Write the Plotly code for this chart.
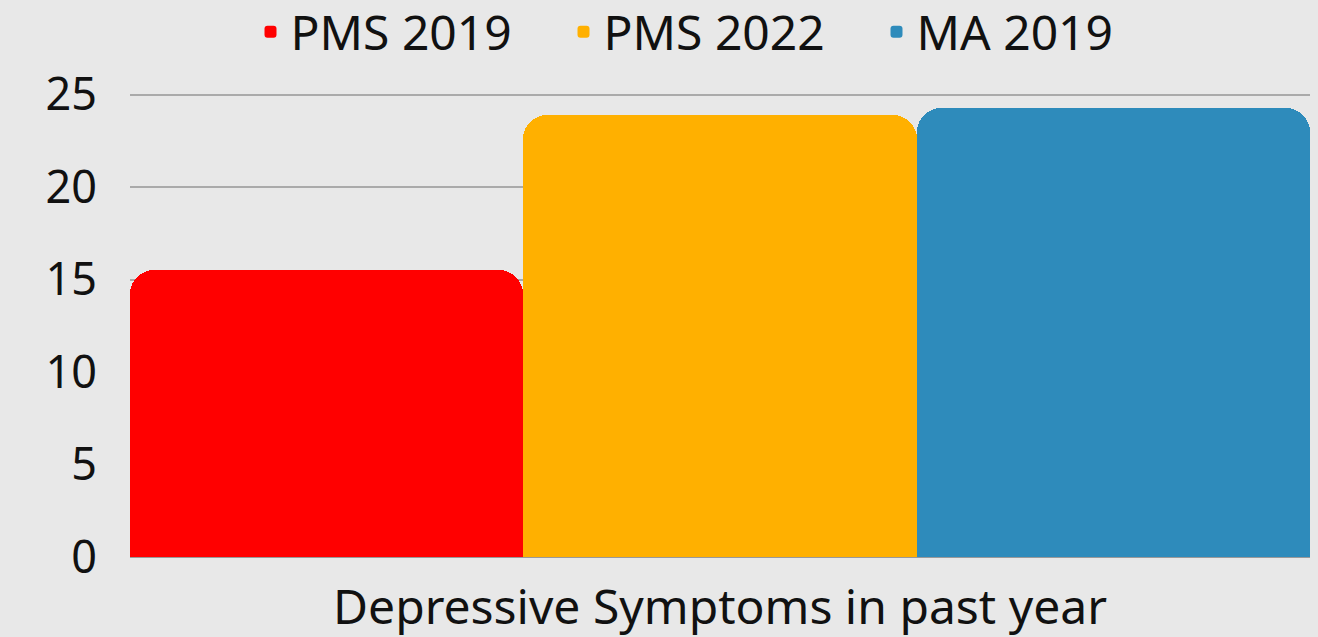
import plotly.graph_objects as go

categories = ["Depressive Symptoms in past year"]
series_names = ["PMS 2019", "PMS 2022", "MA 2019"]
pms2019 = [15.5]
pms2022 = [23.9]
ma2019 = [24.3]
colors = ["#ff0000", "#ffb000", "#2e8bbb"]
y_ticks = [0, 5, 10, 15, 20, 25]

fig = go.Figure()
for name, vals, col in zip(series_names, [pms2019, pms2022, ma2019], colors):
    fig.add_trace(go.Bar(name=name, x=categories, y=vals, marker=dict(color=col, line=dict(width=0))))

font_family = "Noto Sans"
fig.update_layout(
    width=1318, height=637,
    barmode="group", bargap=0, bargroupgap=0,
    barcornerradius=24,
    paper_bgcolor="#e8e8e8", plot_bgcolor="#e8e8e8",
    margin=dict(l=130, r=8, t=91, b=80, autoexpand=False),
    font=dict(family=font_family, color="#111111", size=46),
    legend=dict(orientation="h", x=0.5, xanchor="center", yref="container", y=1 - 32 / 637,
                yanchor="middle", font=dict(size=48), bgcolor="rgba(0,0,0,0)", entrywidth=268),
    xaxis=dict(showgrid=False, showline=False, tickfont=dict(size=48), ticks="", ticklabelstandoff=18,
               automargin=False),
    yaxis=dict(range=[0, 25.2], tickvals=y_ticks, showgrid=True, gridcolor="#aaaaaa", gridwidth=2,
               zeroline=True, zerolinecolor="#999999", zerolinewidth=1, automargin=False,
               tickfont=dict(size=45), ticklabelstandoff=32, showline=False),
)
fig.write_html("out.html", config={"displayModeBar": False},
               post_script="document.body.style.margin='0';")
